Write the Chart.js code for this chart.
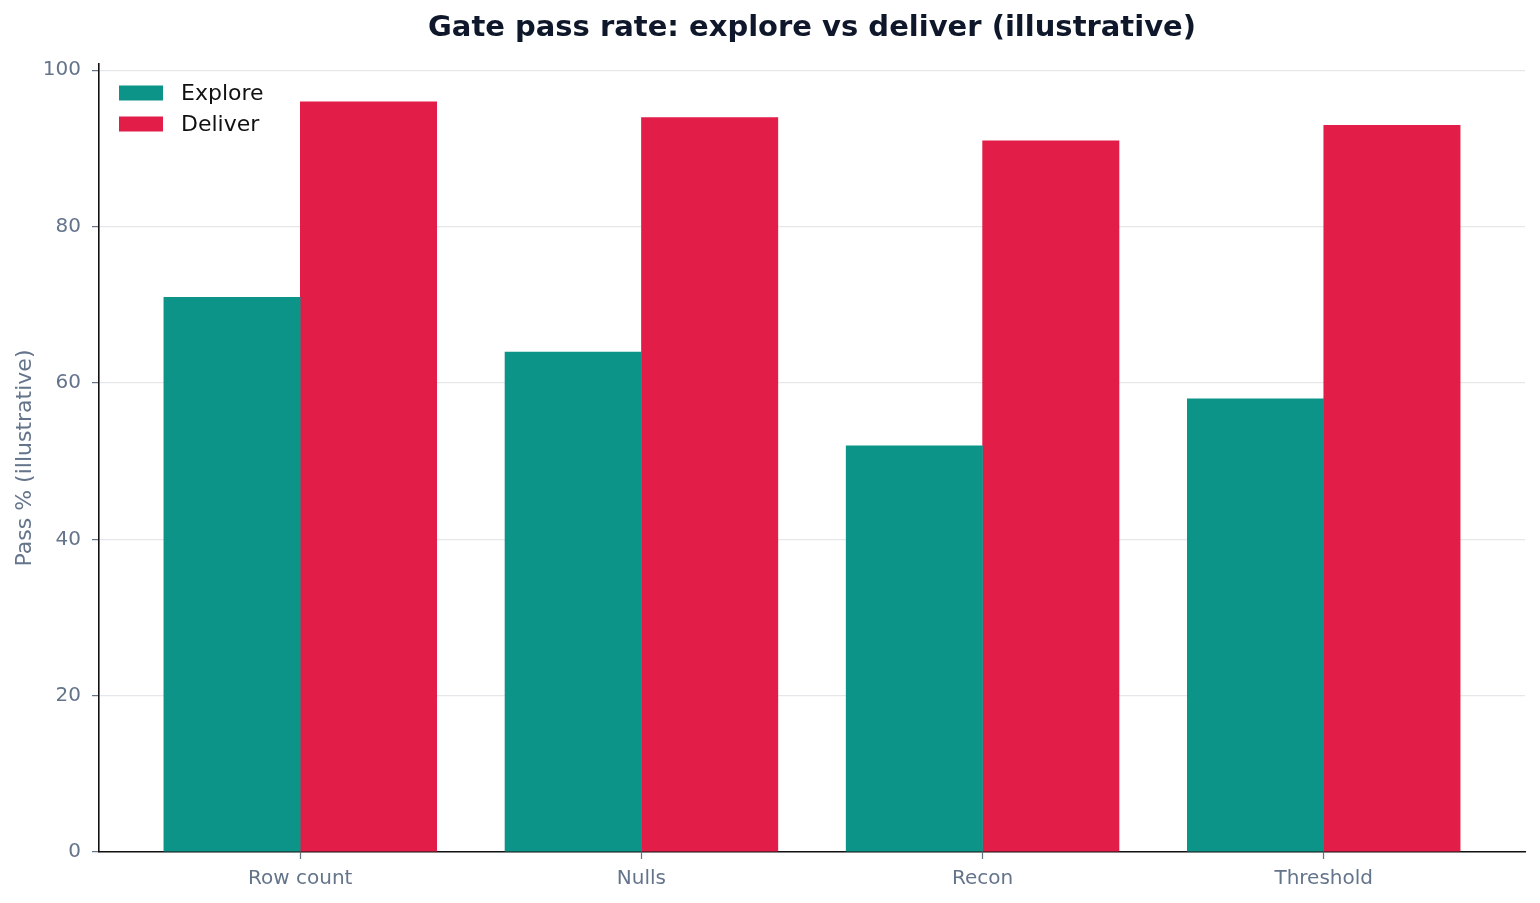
<!DOCTYPE html>
<html>
<head>
<meta charset="utf-8">
<script src="https://cdn.jsdelivr.net/npm/chart.js@4/dist/chart.umd.min.js"></script>
<style>
  html, body { margin: 0; padding: 0; background: #fff; }
  #wrap { width: 1540px; height: 903px; }
</style>
</head>
<body>
<div id="wrap"><canvas id="chart"></canvas></div>
<script>
// data
const categories = ['Row count', 'Nulls', 'Recon', 'Threshold'];
const exploreRates = [71, 64, 52, 58];
const deliverRates = [96, 94, 91, 93];
const yTicks = [0, 20, 40, 60, 80, 100];

const FONT = "'DejaVu Sans', sans-serif";
const TICK_COLOR = '#64748b';
const SPINE = '#111111';

Chart.defaults.font.family = FONT;
Chart.defaults.animation = false;

// legend drawn inside the plot, top-left, like the matplotlib one
const insideLegend = {
    id: 'insideLegend',
    afterDraw(chart) {
        const { ctx, chartArea } = chart;
        ctx.save();
        ctx.font = '22px ' + FONT;
        ctx.textBaseline = 'middle';
        chart.data.datasets.forEach((ds, i) => {
            const cy = chartArea.top + 29 + i * 31;
            ctx.fillStyle = ds.backgroundColor;
            ctx.fillRect(chartArea.left + 20, cy - 7.5, 44, 15);
            ctx.fillStyle = '#111111';
            ctx.fillText(ds.label, chartArea.left + 82, cy + 1);
        });
        ctx.restore();
    }
};

const ctx = document.getElementById('chart').getContext('2d');
let chart = new Chart(ctx, {
    type: 'bar',
    data: {
        datasets: [{
            label: 'Explore',
            data: exploreRates.map((v, i) => ({ x: i, y: v })),
            backgroundColor: '#0d9488'
        }, {
            label: 'Deliver',
            data: deliverRates.map((v, i) => ({ x: i, y: v })),
            backgroundColor: '#e11d48'
        }]
    },
    options: {
        responsive: true,
        maintainAspectRatio: false,
        barPercentage: 1.004,
        categoryPercentage: 0.8,
        layout: { padding: { left: 0, right: 15, top: 0, bottom: 0 } },
        plugins: {
            legend: { display: false },
            tooltip: { enabled: false },
            title: {
                display: true,
                fullSize: false,
                text: 'Gate pass rate: explore vs deliver (illustrative)',
                color: '#0f172a',
                font: { size: 29, weight: 'bold' },
                padding: { top: 11, bottom: 18.2 }
            }
        },
        scales: {
            x: {
                type: 'linear',
                offset: false,
                min: -0.59,
                max: categories.length - 1 + 0.59,
                afterBuildTicks: (axis) => { axis.ticks = categories.map((c, i) => ({ value: i })); },
                afterFit: (axis) => { axis.height = 51; },
                ticks: {
                    color: TICK_COLOR,
                    font: { size: 20 },
                    padding: 8,
                    maxRotation: 0,
                    callback: (value) => categories[value] ?? ''
                },
                grid: { offset: false, drawOnChartArea: false, drawTicks: true, tickLength: 7, tickColor: TICK_COLOR, tickWidth: 1.25 },
                border: { color: SPINE, width: 1.6 }
            },
            y: {
                min: 0,
                max: Math.max(...deliverRates) * 1.05,
                afterBuildTicks: (axis) => { axis.ticks = yTicks.map(v => ({ value: v })); },
                afterFit: (axis) => { axis.width = 99; },
                ticks: { color: TICK_COLOR, font: { size: 20 }, padding: 11 },
                grid: { color: '#e5e7eb', lineWidth: 1.2, drawTicks: true, tickLength: 7, tickColor: TICK_COLOR, tickWidth: 1.25 },
                border: { color: SPINE, width: 1.6 },
                title: {
                    display: true,
                    text: 'Pass % (illustrative)',
                    color: TICK_COLOR,
                    font: { size: 22 },
                    padding: { top: 12, bottom: 0 }
                }
            }
        }
    },
    plugins: [insideLegend]
});
</script>
</body>
</html>
